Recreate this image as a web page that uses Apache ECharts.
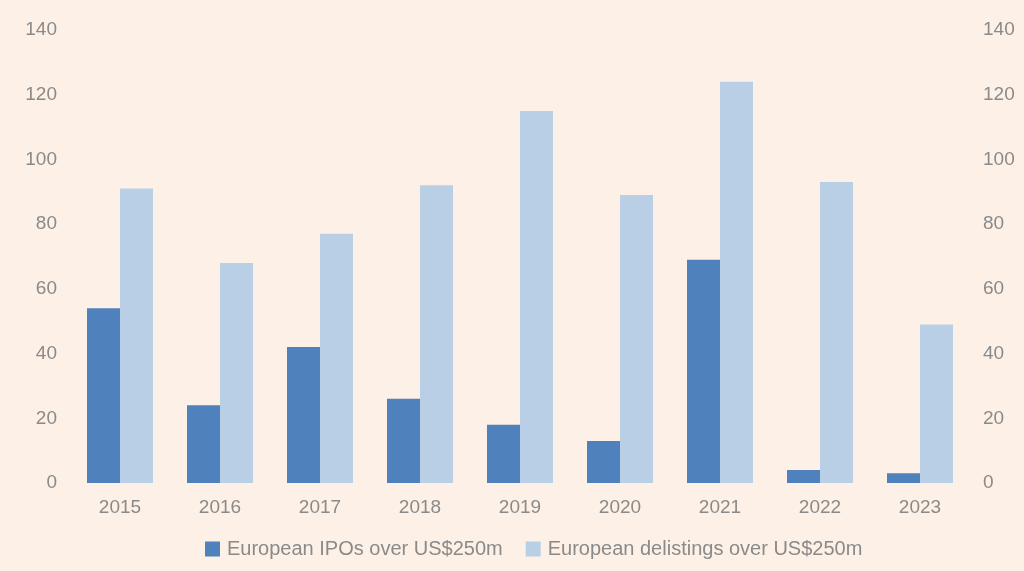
<!DOCTYPE html>
<html>
<head>
<meta charset="utf-8">
<script src="https://cdn.jsdelivr.net/npm/echarts@6/dist/echarts.min.js"></script>
<style>
  html, body { margin: 0; padding: 0; background: #fdf0e6; }
  #chart { width: 1024px; height: 571px; }
</style>
</head>
<body>
<div id="chart"></div>
<script>
var years = ['2015', '2016', '2017', '2018', '2019', '2020', '2021', '2022', '2023'];
var ipos = [54, 24, 42, 26, 18, 13, 69, 4, 3];
var delistings = [91, 68, 77, 92, 115, 89, 124, 93, 49];
var seriesNames = ['European IPOs over US$250m', 'European delistings over US$250m'];

var myChart = echarts.init(document.getElementById('chart'));
var fontFamily = 'Liberation Sans, Arial, sans-serif';
var labelStyle = {
    color: '#8a8a8a',
    fontSize: 19,
    fontFamily: fontFamily
};

var valueAxis = function (pos) {
    return {
        type: 'value',
        position: pos,
        min: 0,
        max: 140,
        interval: 20,
        axisLine: { show: false },
        axisTick: { show: false },
        splitLine: { show: false },
        axisLabel: Object.assign({ margin: 13 }, labelStyle)
    };
};

var option = {
    backgroundColor: '#fdf0e6',
    animation: false,
    grid: {
        left: 70,
        right: 54,
        top: 30,
        bottom: 88
    },
    legend: {
        bottom: 7,
        left: 200,
        itemWidth: 15,
        itemHeight: 15,
        itemGap: 23,
        icon: 'rect',
        textStyle: { color: '#8a8a8a', fontSize: 20, fontFamily: fontFamily, padding: [0, 0, 0, 2] },
        data: seriesNames
    },
    xAxis: {
        type: 'category',
        data: years,
        axisLine: { show: false },
        axisTick: { show: false },
        axisLabel: Object.assign({ margin: 15 }, labelStyle)
    },
    yAxis: [valueAxis('left'), valueAxis('right')],
    series: [
        {
            name: seriesNames[0],
            type: 'bar',
            data: ipos,
            barGap: '0%',
            barCategoryGap: '34%',
            itemStyle: { color: '#4f81bd' }
        },
        {
            name: seriesNames[1],
            type: 'bar',
            data: delistings,
            barGap: '0%',
            barCategoryGap: '34%',
            itemStyle: { color: '#b9cfe6' }
        }
    ]
};
myChart.setOption(option, true);
</script>
</body>
</html>
